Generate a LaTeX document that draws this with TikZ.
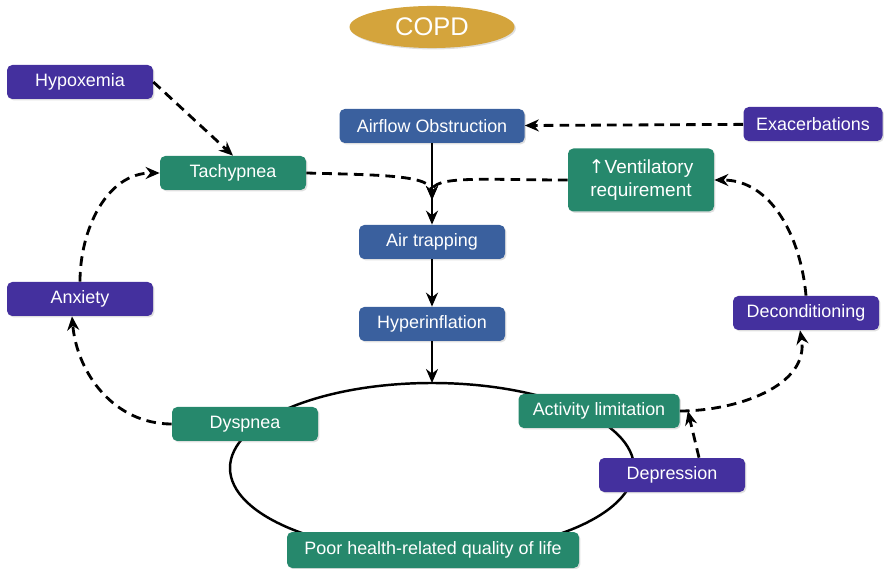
\documentclass[tikz,border=0pt]{standalone}
\usepackage{fontspec}
\setmainfont{Liberation Sans}
\newfontfamily\arrowfont{DejaVu Sans}
\usepackage{xcolor}
\usepackage{tikz}
\usetikzlibrary{positioning, arrows.meta, shapes.geometric, shadows}

\definecolor{copdpurple}{RGB}{68,48,158}
\definecolor{copdgreen}{RGB}{38,136,108}
\definecolor{copdblue}{RGB}{58,96,158}
\definecolor{copdgold}{RGB}{212,164,60}

\begin{document}
\begin{tikzpicture}[
    box/.style={rectangle, rounded corners=3pt, minimum height=0.68cm, minimum width=2.92cm, font=\fontsize{10.2}{12.5}\selectfont, text=white, align=center, fill=#1, drop shadow={opacity=0.25, shadow xshift=0.8pt, shadow yshift=-0.8pt}},
    box/.default=copdgreen,
    solidarrow/.style={-{Stealth[length=2.8mm, width=2.4mm]}, line width=1.2pt},
    dasharrow/.style={-{Stealth[length=2.8mm, width=2.4mm]}, line width=1.6pt, dash pattern=on 5.5pt off 3.5pt},
]
\useasboundingbox (0,0) rectangle (17.78,-11.38);

% --- cycle ---
\draw[line width=1.4pt] (8.64,-9.36) ellipse [x radius=4.04cm, y radius=1.70cm];
\coordinate (top) at (8.64,-7.66);
\coordinate (merge) at (8.64,-4.0);

% --- title ---
\node[ellipse, fill=copdgold, minimum width=3.3cm, minimum height=0.74cm, text=white, font=\fontsize{14.5}{16}\selectfont, drop shadow={opacity=0.25, shadow xshift=0.8pt, shadow yshift=-0.8pt}] (copd) at (8.64,-0.54) {COPD};

% --- central chain ---
\node[box=copdblue, minimum width=3.7cm] (airflow) at (8.64,-2.52) {Airflow Obstruction};
\node[box=copdblue] (airtrap) at (8.64,-4.84) {Air trapping};
\node[box=copdblue] (hyper) at (8.64,-6.48) {Hyperinflation};

% --- left side ---
\node[box=copdpurple] (hypox) at (1.60,-1.64) {Hypoxemia};
\node[box] (tachy) at (4.66,-3.46) {Tachypnea};
\node[box=copdpurple] (anxiety) at (1.60,-5.98) {Anxiety};
\node[box] (dysp) at (4.90,-8.48) {Dyspnea};

% --- right side ---
\node[box=copdpurple, minimum width=2.78cm] (exac) at (16.26,-2.48) {Exacerbations};
\node[box, minimum height=1.26cm, font=\fontsize{10.8}{13}\selectfont] (vent) at (12.82,-3.60) {{\arrowfont ↑}Ventilatory\\requirement};
\node[box=copdpurple] (decond) at (16.12,-6.26) {Deconditioning};
\node[box, minimum width=3.22cm] (activ) at (11.98,-8.22) {Activity limitation};
\node[box=copdpurple] (depr) at (13.44,-9.50) {Depression};

% --- bottom ---
\node[box, minimum width=5.84cm, minimum height=0.72cm] (poor) at (8.66,-11.0) {Poor health-related quality of life};

% --- solid arrows ---
\draw[solidarrow] (airflow) -- (airtrap);
\draw[solidarrow] (airtrap) -- (hyper);
\draw[solidarrow] (hyper) -- (top);

% --- dashed arrows ---
\draw[dasharrow] (hypox.east) -- (tachy.north);
\draw[dasharrow] (exac) -- (airflow);
\draw[dasharrow] (tachy.east) .. controls (7.6,-3.5) and (8.64,-3.5) .. (merge);
\draw[dasharrow] (vent.west) .. controls (9.7,-3.6) and (8.64,-3.5) .. (merge);
\draw[dasharrow] (anxiety.north) to[out=90, in=180] (tachy.west);
\draw[dasharrow] (dysp.west) to[out=180, in=-85] ([xshift=-0.16cm]anxiety.south);
\draw[dasharrow] (activ.east) to[out=0, in=-80] ([xshift=-0.12cm]decond.south);
\draw[dasharrow] (decond.north) to[out=95, in=0] (vent.east);
\draw[dasharrow] ([xshift=0.54cm]depr.north) -- ([xshift=0.16cm]activ.east);

\end{tikzpicture}
\end{document}
